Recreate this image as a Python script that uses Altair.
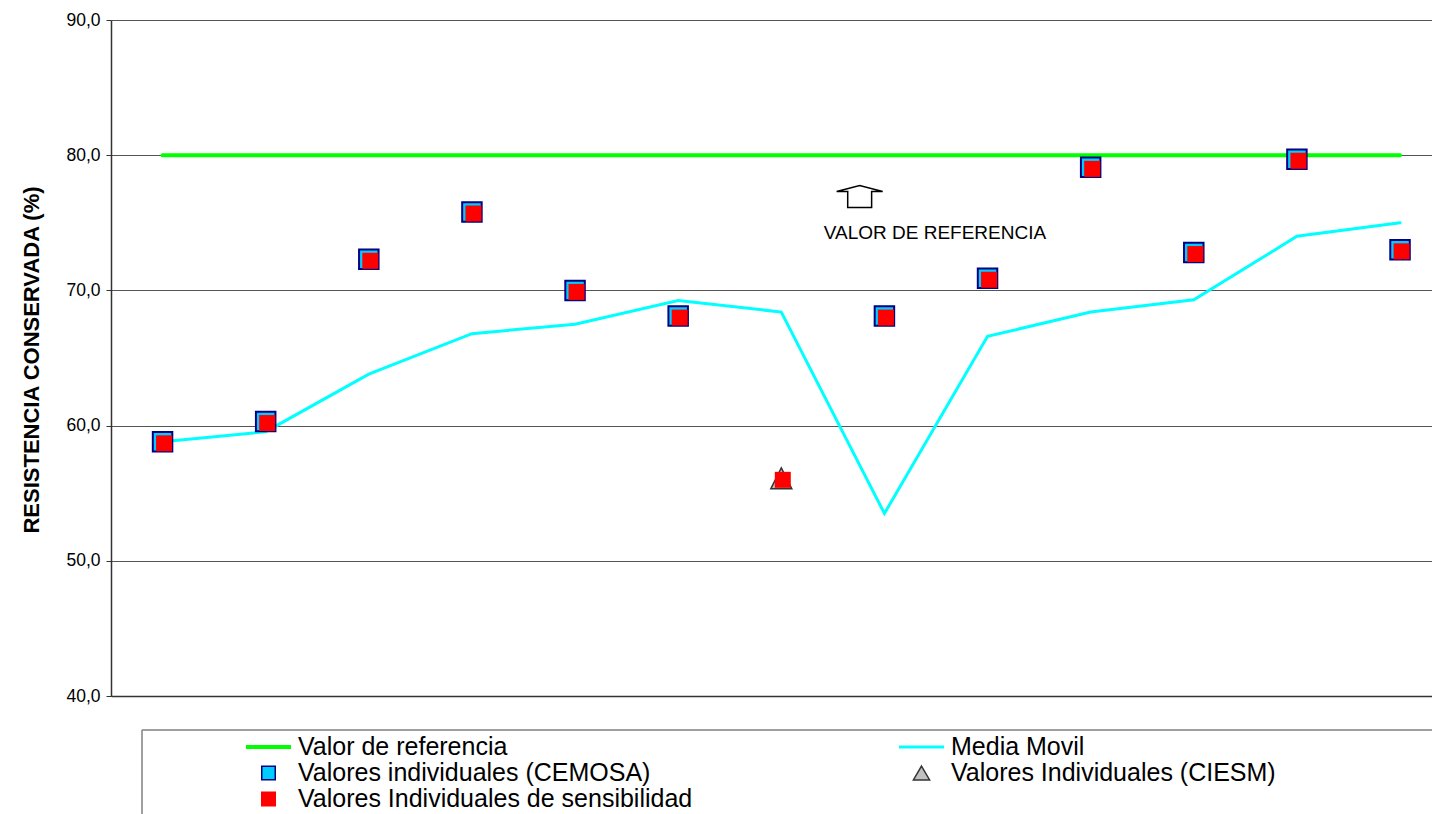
import altair as alt
import pandas as pd

# ---------------- data ----------------
ensayo = [1, 2, 3, 4, 5, 6, 7, 8, 9, 10, 11, 12, 13]
valor_referencia = [80, 80, 80, 80, 80, 80, 80, 80, 80, 80, 80, 80, 80]
media_movil = [58.8, 59.55, 63.8, 66.8, 67.5, 69.25, 68.4, 53.5, 66.6, 68.4, 69.3, 74.0, 75.0]
cemosa_x = [1, 2, 3, 4, 5, 6, 8, 9, 10, 11, 12, 13]
cemosa = [58.8, 60.3, 72.3, 75.8, 70.0, 68.1, 68.1, 70.9, 79.1, 72.8, 79.7, 73.0]
ciesm_x = [7]
ciesm = [56.1]
sensibilidad = [58.8, 60.3, 72.3, 75.8, 70.0, 68.1, 56.1, 68.1, 70.9, 79.1, 72.8, 79.7, 73.0]

anot_x = [7.76]
anot_y = [76.94]
anot_text_x = [8.49]
anot_text_y = [74.27]
anot_text = ["VALOR DE REFERENCIA"]

y_ticks = [40, 50, 60, 70, 80, 90]

# legend entries, listed column by column (left column first)
series_names = [
    "Valor de referencia",
    "Valores individuales (CEMOSA)",
    "Valores Individuales de sensibilidad",
    "Media Movil",
    "Valores Individuales (CIESM)",
]
series_fill = ["#00FF00", "#00CCFF", "#FF0000", "#00FFFF", "#C0C0C0"]
series_stroke = ["#00FF00", "#000080", "#FF0000", "#00FFFF", "#333333"]
series_shape = [
    "M-0.967,-0.056H0.967V0.056H-0.967Z",
    "M-0.3,-0.3H0.3V0.3H-0.3Z",
    "M-0.3,-0.3H0.3V0.3H-0.3Z",
    "M-0.967,-0.033H0.967V0.033H-0.967Z",
    "M0,-0.31L0.36,0.31L-0.36,0.31Z",
]

# ---------------- tables ----------------
df_line = pd.DataFrame({"x": ensayo, "ref": valor_referencia, "media": media_movil, "sens": sensibilidad})
df_cemosa = pd.DataFrame({"x": cemosa_x, "v": cemosa})
df_ciesm = pd.DataFrame({"x": ciesm_x, "v": ciesm})
df_anot = pd.DataFrame({"x": anot_x, "y": anot_y})
df_anot_t = pd.DataFrame({"x": anot_text_x, "y": anot_text_y, "t": anot_text})
df_leg = pd.DataFrame({"serie": series_names, "x": [1] * 5, "y": [0] * 5})
df_one = pd.DataFrame({"a": [0]})

W, H = 1321, 676

xscale = alt.Scale(domain=[0.5, 13.31], nice=False, zero=False)
xaxis = alt.Axis(labels=False, ticks=False, grid=False, title=None,
                 domainColor="#333333", domainWidth=1.5)
yscale = alt.Scale(domain=[40, 90], nice=False, zero=False)
yaxis = alt.Axis(
    values=y_ticks,
    labelExpr="replace(format(datum.value, '.1f'), '.', ',')",
    grid=True, gridColor="#555555", gridWidth=1,
    domainColor="#333333", domainWidth=1.5,
    tickColor="#333333", tickSize=5, tickWidth=1,
    labelPadding=6, labelFont="Liberation Sans", labelFontSize=17.5, labelColor="black",
    title="RESISTENCIA CONSERVADA (%)",
    titleFont="Liberation Sans", titleFontSize=22, titleFontWeight="bold", titleColor="black",
    titleX=-73, titleY=339.5, titleAngle=270, titleBaseline="alphabetic", titleAlign="center",
)


def X(f="x"):
    return alt.X(f"{f}:Q", scale=xscale, axis=xaxis)


def Y(f):
    return alt.Y(f"{f}:Q", scale=yscale, axis=yaxis)


ref_line = alt.Chart(df_line).mark_line(color="#00FF00", strokeWidth=4, strokeCap="round").encode(
    x=X(), y=Y("ref"))
media_line = alt.Chart(df_line).mark_line(color="#00FFFF", strokeWidth=3, strokeCap="round").encode(
    x=X(), y=Y("media"))
cemosa_pts = alt.Chart(df_cemosa).mark_square(
    size=380, fill="#00CCFF", stroke="#000080", strokeWidth=2, opacity=1, filled=True).encode(
    x=X(), y=Y("v"))
ciesm_pts = alt.Chart(df_ciesm).mark_point(
    shape="M0,-1L1,1L-1,1Z", size=440, fill="#C0C0C0", stroke="#333333", strokeWidth=1.5,
    opacity=1, filled=True).encode(x=X(), y=Y("v"))
sens_pts = alt.Chart(df_line).mark_square(
    size=256, color="#FF0000", opacity=1, xOffset=1.5, yOffset=1.5).encode(x=X(), y=Y("sens"))

arrow = alt.Chart(df_anot).mark_point(
    shape="M-0.52,0.478L-0.52,-0.217L-1,-0.217L0,-0.478L1,-0.217L0.52,-0.217L0.52,0.478Z",
    size=2116, fill="white", stroke="black", strokeWidth=1.5, opacity=1, filled=True).encode(
    x=X(), y=Y("y"))
anot_txt = alt.Chart(df_anot_t).mark_text(
    font="Liberation Sans", fontSize=19, color="black", align="center", baseline="middle").encode(
    x=X(), y=Y("y"), text="t:N")

leg_kw = dict(domain=series_names)
legend_layer = alt.Chart(df_leg).mark_point(
    clip=True, opacity=1, filled=True, size=2025, strokeWidth=1.5).encode(
    x=X(), y=Y("y"),
    fill=alt.Fill("serie:N", scale=alt.Scale(range=series_fill, **leg_kw), legend=alt.Legend(title=None)),
    stroke=alt.Stroke("serie:N", scale=alt.Scale(range=series_stroke, **leg_kw), legend=alt.Legend(title=None)),
    shape=alt.Shape("serie:N", scale=alt.Scale(range=series_shape, **leg_kw), legend=alt.Legend(title=None)),
)

box_top = alt.Chart(df_one).mark_rule(color="#808080", strokeWidth=1.5).encode(
    x=alt.value(31), x2=alt.value(W), y=alt.value(710))
box_left = alt.Chart(df_one).mark_rule(color="#808080", strokeWidth=1.5).encode(
    x=alt.value(31), y=alt.value(710), y2=alt.value(800))

chart = alt.layer(
    ref_line, media_line, cemosa_pts, ciesm_pts, sens_pts, arrow, anot_txt, legend_layer, box_top, box_left
).properties(
    width=W, height=H,
    autosize=alt.AutoSizeParams(type="none"),
    padding={"left": 111, "top": 20, "right": 0, "bottom": 118},
).configure(
    font="Liberation Sans", background="white"
).configure_view(
    stroke=None
).configure_legend(
    orient="none", legendX=134, legendY=714, columns=2, columnPadding=205, rowPadding=0,
    clipHeight=26, labelOffset=6, padding=0, symbolSize=2025, symbolStrokeWidth=1.5,
    labelFont="Liberation Sans", labelFontSize=25, labelColor="black", labelLimit=800,
    symbolOpacity=1,
)

chart.save("out.html", embed_options={"renderer": "svg", "actions": False})
